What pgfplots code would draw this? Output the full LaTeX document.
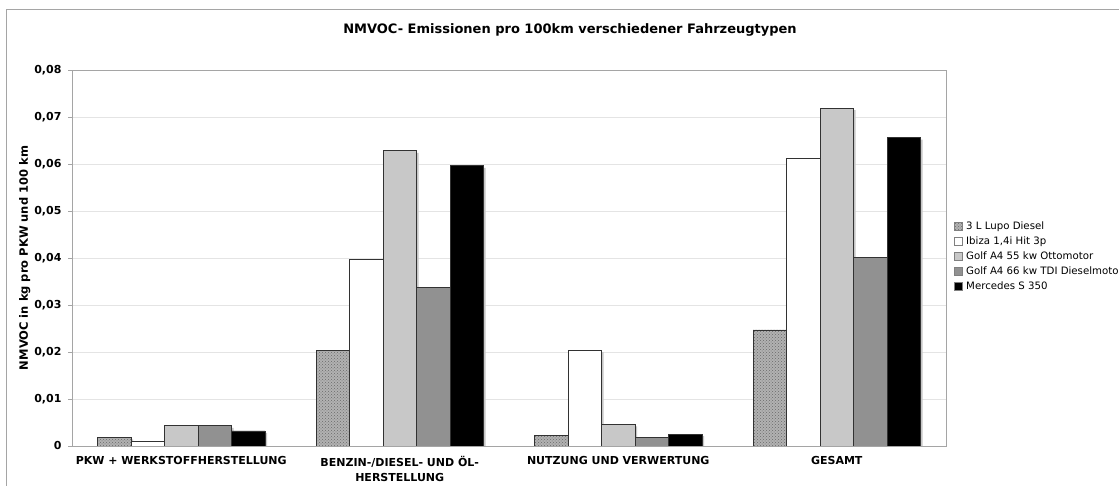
\documentclass[border=0pt]{standalone}
\usepackage{pgfplots}
\pgfplotsset{compat=1.18}
\usepackage{fontspec}
\setmainfont{DejaVu Sans}
\usetikzlibrary{patterns}
\definecolor{gridgray}{RGB}{228,228,228}
\definecolor{framegray}{RGB}{165,165,165}
\definecolor{lupobase}{RGB}{178,178,178}
\definecolor{lupodot}{RGB}{105,105,105}
\definecolor{golfl}{RGB}{200,200,200}
\definecolor{golfd}{RGB}{145,145,145}
\definecolor{bord}{RGB}{50,50,50}
\begin{document}
\begin{tikzpicture}
\useasboundingbox (0,0) rectangle (1119pt,486pt);
\clip (0,0) rectangle (1119pt,486pt);
\fill[white] (0,0) rectangle (1119pt,486pt);
\draw[framegray, line width=0.8pt] (6pt,-20pt) -- (6pt,477pt) -- (1140pt,477pt);
\node[font=\fontsize{13}{15}\selectfont\bfseries] at (570pt,456pt) {NMVOC- Emissionen pro 100km verschiedener Fahrzeugtypen};
\begin{axis}[
  at={(72pt,40pt)}, anchor=south west,
  scale only axis, width=874pt, height=376pt,
  ybar=0pt, bar width=33.5pt,
  xmin=-0.5, xmax=3.5, ymin=0, ymax=0.08,
  scaled y ticks=false,
  axis line style={framegray, line width=0.8pt},
  xtick={0,1,2,3},
  xticklabels={{PKW + WERKSTOFFHERSTELLUNG},{BENZIN-/DIESEL- UND ÖL-\\HERSTELLUNG},{NUTZUNG UND VERWERTUNG},{GESAMT}},
  x tick label style={align=center, font=\fontsize{11}{15}\selectfont\bfseries, yshift=-3pt},
  major x tick style={draw=none},
  extra x ticks={0.5,1.5,2.5},
  extra x tick labels={},
  extra x tick style={major tick length=4pt, tick style={framegray, line width=0.8pt}, grid=none},
  ytick={0,0.01,0.02,0.03,0.04,0.05,0.06,0.07,0.08},
  yticklabels={0,{0,01},{0,02},{0,03},{0,04},{0,05},{0,06},{0,07},{0,08}},
  y tick label style={font=\fontsize{11}{12}\selectfont\bfseries, xshift=-3pt},
  tick align=outside, major tick length=4pt,
  ytick pos=left, xtick pos=bottom,
  y tick style={framegray, line width=0.8pt},
  ymajorgrids, grid style={gridgray, line width=0.8pt},
  ylabel={NMVOC in kg pro PKW und 100 km},
  ylabel style={font=\fontsize{11.5}{12}\selectfont\bfseries, at={(axis description cs:-0.054,0.5)}, anchor=center},
  legend style={at={(axis description cs:1.0055,0.605)}, anchor=north west, draw=none, fill=none,
    font=\fontsize{10.2}{11}\selectfont, legend cell align=left, row sep=3.2pt,
    nodes={inner sep=1.2pt}, /tikz/every odd column/.append style={column sep=2.5pt}},
  legend image code/.code={\draw[#1] (0pt,-4pt) rectangle (8pt,4pt);},
  shadowed/.style={preaction={fill=black!22, draw=none, transform canvas={shift={(2pt,-2pt)}}}},
  clip=true,
]
\addlegendimage{draw=gray, line width=0.5pt, fill=lupobase, postaction={pattern=crosshatch dots, pattern color=lupodot}}
\addlegendimage{draw=gray, line width=0.5pt, fill=white}
\addlegendimage{draw=gray, line width=0.5pt, fill=golfl}
\addlegendimage{draw=gray, line width=0.5pt, fill=golfd}
\addlegendimage{draw=gray, line width=0.5pt, fill=black}
\addplot[forget plot, bar shift=-67pt, shadowed, draw=bord, line width=0.8pt, fill=lupobase, postaction={pattern=crosshatch dots, pattern color=lupodot}]
  coordinates {(0,0.00185) (1,0.0204) (2,0.00227) (3,0.0247)};
\addplot[forget plot, bar shift=-33.5pt, shadowed, draw=bord, line width=0.8pt, fill=white]
  coordinates {(0,0.0010) (1,0.0398) (2,0.0204) (3,0.0611)};
\addplot[forget plot, bar shift=0pt, shadowed, draw=bord, line width=0.8pt, fill=golfl]
  coordinates {(0,0.0043) (1,0.0628) (2,0.0046) (3,0.0719)};
\addplot[forget plot, bar shift=33.5pt, shadowed, draw=bord, line width=0.8pt, fill=golfd]
  coordinates {(0,0.0043) (1,0.0338) (2,0.0019) (3,0.0401)};
\addplot[forget plot, bar shift=67pt, shadowed, draw=bord, line width=0.8pt, fill=black]
  coordinates {(0,0.0032) (1,0.0596) (2,0.0025) (3,0.0656)};
\legend{3 L Lupo Diesel, Ibiza 1{,}4i Hit 3p, Golf A4 55 kw Ottomotor, Golf A4 66 kw TDI Dieselmotor, Mercedes S 350}
\end{axis}
\end{tikzpicture}
\end{document}
